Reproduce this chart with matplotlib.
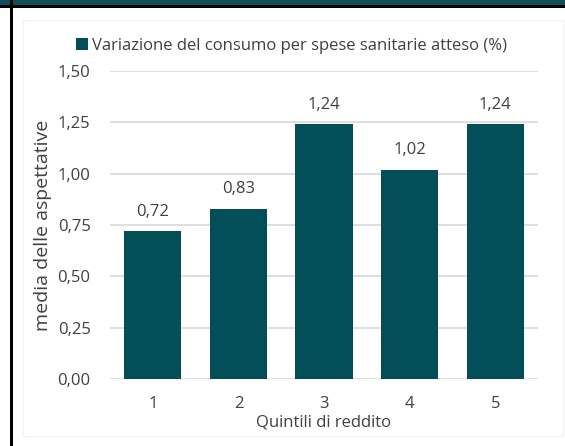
import matplotlib.pyplot as plt
from matplotlib.patches import Rectangle

quintili = ["1", "2", "3", "4", "5"]
variazione = [0.72, 0.83, 1.24, 1.02, 1.24]
y_ticks = [0.0, 0.25, 0.5, 0.75, 1.0, 1.25, 1.5]

BAR_COLOR = "#024f5a"
TEXT_COLOR = "#404040"

plt.rcParams["font.family"] = ["Open Sans", "DejaVu Sans"]

W, H = 565, 446
fig = plt.figure(figsize=(W / 100, H / 100), dpi=100)

# page decorations: top band and left rule
fig.patches.append(Rectangle((0, 1 - 6 / H), 1, 6 / H, transform=fig.transFigure,
                             facecolor="#0e4f5c", edgecolor="none"))
fig.patches.append(Rectangle((0, 1 - 7.5 / H), 1, 2 / H, transform=fig.transFigure,
                             facecolor="black", edgecolor="none"))
fig.patches.append(Rectangle((10 / W, 0), 2.5 / W, 1, transform=fig.transFigure,
                             facecolor="black", edgecolor="none"))
fig.patches.append(Rectangle((23 / W, 10 / H), 540 / W, 416 / H, transform=fig.transFigure,
                             facecolor="none", edgecolor="#f4f4f4", linewidth=0.8))

ax = fig.add_axes([110 / W, 1 - 379 / H, 428 / W, 308 / H])
x = range(len(quintili))
bars = ax.bar(x, variazione, width=0.67, color=BAR_COLOR, zorder=3,
              label="Variazione del consumo per spese sanitarie atteso (%)")

for b, v in zip(bars, variazione):
    ax.text(b.get_x() + b.get_width() / 2, v + 0.055, f"{v:.2f}".replace(".", ","),
            ha="center", va="bottom", fontsize=12, color=TEXT_COLOR)

ax.set_xlim(-0.5, len(quintili) - 0.5)
ax.set_ylim(0, 1.5)
ax.set_yticks(y_ticks)
ax.set_yticklabels([f"{t:.2f}".replace(".", ",") for t in y_ticks])
ax.set_xticks(list(x))
ax.set_xticklabels(quintili)
ax.tick_params(length=0, labelsize=12, colors=TEXT_COLOR)
ax.tick_params(axis="y", pad=14)
ax.tick_params(axis="x", pad=12)
ax.yaxis.grid(True, color="#d9d9d9", linewidth=1.2, zorder=0)
for s in ax.spines.values():
    s.set_visible(False)

ax.set_xlabel("Quintili di reddito", fontsize=12, color=TEXT_COLOR, labelpad=2)
ax.set_ylabel("media delle aspettative", fontsize=14, color=TEXT_COLOR, labelpad=4)

ax.legend(loc="lower center", bbox_to_anchor=(0.424, 1.028), frameon=False,
          fontsize=12, labelcolor=TEXT_COLOR, handlelength=0.75, handleheight=0.75,
          handletextpad=0.25, borderpad=0)

fig.savefig("out.png", dpi=100)
